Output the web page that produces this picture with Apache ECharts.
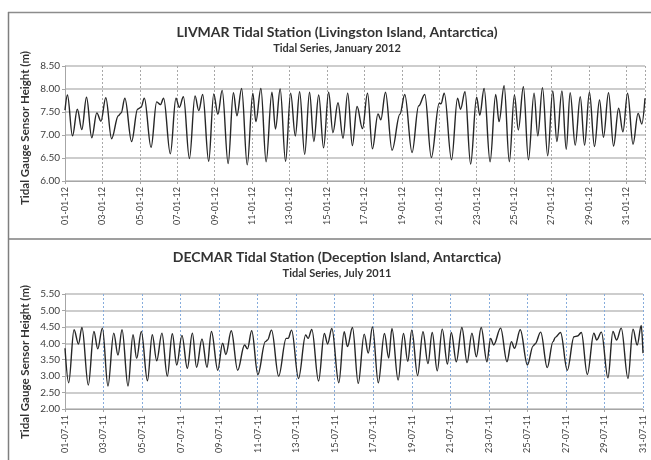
<!DOCTYPE html>
<html>
<head>
<meta charset="utf-8">
<title>LIVMAR / DECMAR tidal series</title>
<script src="https://cdn.jsdelivr.net/npm/echarts@6/dist/echarts.min.js"></script>
<style>
  html, body { margin: 0; padding: 0; background: #fff; }
  #chart { width: 651px; height: 460px; }
</style>
</head>
<body>
<div id="chart"></div>
<script>
// LIVMAR, January 2012: turning points (days after 01-01-12 00:00, metres)
const livDays = [
  0.00, 0.13, 0.40, 0.66, 0.90, 1.15, 1.43, 1.70, 1.92, 2.18, 2.49, 2.85, 3.00, 3.20,
  3.56, 3.88, 4.06, 4.24, 4.60, 4.90, 5.10, 5.27, 5.63, 5.93, 6.11, 6.33, 6.65, 6.95,
  7.15, 7.36, 7.68, 7.95, 8.17, 8.40, 8.72, 9.00, 9.19, 9.44, 9.74, 10.04, 10.20, 10.47,
  10.75, 11.06, 11.25, 11.50, 11.79, 12.06, 12.31, 12.54, 12.81, 13.07, 13.30, 13.56,
  13.82, 14.09, 14.32, 14.59, 14.86, 15.11, 15.36, 15.61, 15.90, 16.17, 16.43, 16.73,
  16.88, 17.13, 17.48, 17.90, 18.16, 18.55, 18.90, 19.23, 19.58, 20.00, 20.10, 20.27,
  20.66, 20.98, 21.14, 21.38, 21.68, 22.00, 22.17, 22.40, 22.72, 23.02, 23.20, 23.47,
  23.75, 24.02, 24.23, 24.50, 24.77, 25.07, 25.27, 25.52, 25.80, 26.07, 26.29, 26.56,
  26.79, 27.00, 27.27, 27.54, 27.77, 28.03, 28.30, 28.57, 28.78, 29.05, 29.32, 29.59,
  29.82, 30.07, 30.36, 30.63, 30.83, 31.00
];
const livHeights = [
  7.54, 7.87, 6.98, 7.56, 7.12, 7.82, 6.94, 7.48, 7.30, 7.81, 6.92, 7.42, 7.48, 7.80,
  6.86, 7.56, 7.60, 7.80, 6.73, 7.72, 7.66, 7.80, 6.59, 7.80, 7.60, 7.83, 6.49, 7.85,
  7.53, 7.88, 6.43, 7.89, 7.45, 7.97, 6.38, 7.92, 7.42, 8.01, 6.35, 7.91, 7.29, 8.01,
  6.42, 7.93, 7.13, 8.00, 6.43, 7.91, 6.98, 7.94, 6.58, 7.93, 6.86, 7.87,
  6.72, 7.93, 7.05, 7.70, 6.93, 7.91, 6.77, 7.62, 7.14, 7.91, 6.70, 7.46,
  7.33, 7.93, 6.67, 7.45, 7.88, 6.62, 7.63, 7.88, 6.51, 7.69, 7.68, 7.91,
  6.46, 7.80, 7.56, 7.94, 6.37, 7.82, 7.43, 8.01, 6.42, 7.88, 7.29, 8.07,
  6.42, 7.87, 7.11, 8.05, 6.46, 7.91, 6.98, 8.03, 6.55, 7.96, 6.86, 7.96,
  6.69, 7.92, 6.78, 7.83, 6.78, 7.93, 6.75, 7.76, 6.95, 7.92, 6.76, 7.58,
  7.07, 7.91, 6.80, 7.47, 7.24, 7.80
];
const livTicks = [
  '01-01-12', '03-01-12', '05-01-12', '07-01-12', '09-01-12', '11-01-12', '13-01-12', '15-01-12',
  '17-01-12', '19-01-12', '21-01-12', '23-01-12', '25-01-12', '27-01-12', '29-01-12', '31-01-12'
];

// DECMAR, July 2011 (days after 01-07-11 00:00, metres)
const decDays = [
  0.00, 0.19, 0.47, 0.70, 0.88, 1.21, 1.50, 1.70, 1.94, 2.23, 2.53, 2.75, 2.96, 3.27,
  3.53, 3.72, 3.96, 4.28, 4.53, 4.76, 5.03, 5.31, 5.57, 5.80, 6.07, 6.35, 6.61, 6.83,
  7.11, 7.37, 7.60, 7.93, 8.18, 8.35, 8.63, 8.96, 9.32, 9.47, 9.69, 10.01, 10.40, 10.51,
  10.72, 11.09, 11.48, 11.58, 11.76, 12.12, 12.49, 12.62, 12.81, 13.16, 13.46, 13.63,
  13.85, 14.21, 14.49, 14.66, 14.92, 15.22, 15.53, 15.74, 15.96, 16.26, 16.58, 16.80,
  16.97, 17.29, 17.57, 17.79, 18.00, 18.30, 18.58, 18.84, 19.06, 19.32, 19.58, 19.85,
  20.05, 20.31, 20.60, 20.87, 21.12, 21.35, 21.60, 21.90, 22.09, 22.25, 22.61, 22.94,
  23.17, 23.33, 23.63, 24.00, 24.30, 24.40, 24.69, 25.03, 25.33, 25.45, 25.72, 26.07,
  26.42, 26.60, 26.80, 27.11, 27.45, 27.60, 27.84, 28.18, 28.44, 28.63, 28.87, 29.22,
  29.48, 29.70, 29.91, 30.00
];
const decHeights = [
  3.85, 2.80, 4.41, 3.98, 4.48, 2.73, 4.36, 3.83, 4.46, 2.70, 4.31, 3.64, 4.41, 2.70,
  4.26, 3.54, 4.36, 2.86, 4.26, 3.47, 4.31, 3.00, 4.29, 3.34, 4.24, 3.24, 4.31, 3.27,
  4.13, 3.27, 4.36, 3.18, 4.00, 3.66, 4.38, 3.18, 3.95, 3.83, 4.38, 3.05, 4.05, 4.10,
  4.40, 3.00, 4.15, 4.15, 4.40, 2.93, 4.25, 4.15, 4.42, 2.85, 4.30, 3.98,
  4.45, 2.80, 4.35, 3.90, 4.48, 2.78, 4.28, 3.70, 4.50, 2.80, 4.30, 3.55,
  4.45, 2.88, 4.30, 3.45, 4.40, 3.02, 4.35, 3.38, 4.33, 3.16, 4.43, 3.37,
  4.33, 3.44, 4.48, 3.41, 4.31, 3.59, 4.48, 3.44, 4.15, 3.95, 4.46, 3.44,
  4.05, 3.85, 4.41, 3.34, 3.92, 3.98, 4.34, 3.26, 4.05, 4.18, 4.33, 3.18,
  4.20, 4.22, 4.33, 3.05, 4.31, 4.10, 4.34, 2.95, 4.36, 4.10, 4.46, 2.93,
  4.43, 3.95, 4.54, 3.70
];
const decTicks = [
  '01-07-11', '03-07-11', '05-07-11', '07-07-11', '09-07-11', '11-07-11', '13-07-11', '15-07-11',
  '17-07-11', '19-07-11', '21-07-11', '23-07-11', '25-07-11', '27-07-11', '29-07-11', '31-07-11'
];

const FONT = 'Lato, "Open Sans", sans-serif';
const yName = 'Tidal Gauge Sensor Height (m)';

const chart = echarts.init(document.getElementById('chart'), null, { renderer: 'canvas' });

function xAxisFor(gridIndex, max, ticks, splitColor) {
  return {
    type: 'value',
    gridIndex: gridIndex,
    min: 0,
    max: max,
    interval: 2,
    axisLine: { show: true, lineStyle: { color: '#a6a6a6', width: 1 } },
    axisTick: { show: true, length: 3, lineStyle: { color: '#a6a6a6' } },
    axisLabel: {
      rotate: 90,
      margin: 6,
      color: '#404040',
      fontFamily: FONT,
      fontSize: 9,
      showMaxLabel: true,
      formatter: function (v) {
        const i = Math.round(v / 2);
        return (v % 2 === 0 && ticks[i]) ? ticks[i] : '';
      }
    },
    splitLine: { show: true, lineStyle: { color: splitColor, type: [2, 2], width: 1 } }
  };
}

function yAxisFor(gridIndex, min, max) {
  return {
    type: 'value',
    gridIndex: gridIndex,
    min: min,
    max: max,
    interval: 0.5,
    axisLine: { show: true, lineStyle: { color: '#a6a6a6', width: 1 } },
    axisTick: { show: true, length: 3, lineStyle: { color: '#a6a6a6' } },
    axisLabel: {
      margin: 5,
      color: '#404040',
      fontFamily: FONT,
      fontSize: 10,
      formatter: function (v) { return v.toFixed(2); }
    },
    splitLine: { show: true, lineStyle: { color: '#bdbdbd', width: 1.5 } }
  };
}

const option = {
  backgroundColor: '#ffffff',
  animation: false,
  title: [
    {
      text: 'LIVMAR Tidal Station (Livingston Island, Antarctica)',
      subtext: 'Tidal Series, January 2012',
      left: 332, top: 20, textAlign: 'center', itemGap: 4,
      textStyle: { fontFamily: FONT, fontSize: 14, fontWeight: 'bold', color: '#333333' },
      subtextStyle: { fontFamily: FONT, fontSize: 11, fontWeight: 'bold', color: '#333333' }
    },
    {
      text: 'DECMAR Tidal Station (Deception Island, Antarctica)',
      subtext: 'Tidal Series, July 2011',
      left: 332, top: 245, textAlign: 'center', itemGap: 4,
      textStyle: { fontFamily: FONT, fontSize: 14, fontWeight: 'bold', color: '#333333' },
      subtextStyle: { fontFamily: FONT, fontSize: 11, fontWeight: 'bold', color: '#333333' }
    }
  ],
  grid: [
    { left: 65, top: 66, width: 580, height: 115 },
    { left: 65, top: 294, width: 578, height: 115 }
  ],
  xAxis: [
    xAxisFor(0, 31, livTicks, '#a8a8a8'),
    xAxisFor(1, 30, decTicks, '#86acdc')
  ],
  yAxis: [
    yAxisFor(0, 6, 8.5),
    yAxisFor(1, 2, 5.5)
  ],
  series: [
    {
      type: 'line',
      xAxisIndex: 0, yAxisIndex: 0,
      data: livDays.map((d, i) => [d, livHeights[i]]),
      showSymbol: false,
      smooth: 0.36,
      smoothMonotone: 'x',
      lineStyle: { color: '#262626', width: 1.4 }
    },
    {
      type: 'line',
      xAxisIndex: 1, yAxisIndex: 1,
      data: decDays.map((d, i) => [d, decHeights[i]]),
      showSymbol: false,
      smooth: 0.36,
      smoothMonotone: 'x',
      lineStyle: { color: '#262626', width: 1.4 }
    }
  ],
  graphic: [
    { type: 'line', shape: { x1: 8, y1: 12.5, x2: 651, y2: 12.5 }, style: { stroke: '#8c8c8c', lineWidth: 1.5 } },
    { type: 'line', shape: { x1: 8.5, y1: 12, x2: 8.5, y2: 460 }, style: { stroke: '#7f7f7f', lineWidth: 1.5 } },
    { type: 'line', shape: { x1: 8, y1: 239, x2: 651, y2: 239 }, style: { stroke: '#7f7f7f', lineWidth: 1.5 } },
    {
      type: 'text', x: 25, y: 128, rotation: Math.PI / 2,
      style: { text: yName, align: 'center', verticalAlign: 'middle', fill: '#333333',
        font: 'bold 11.5px ' + FONT }
    },
    {
      type: 'text', x: 25, y: 362, rotation: Math.PI / 2,
      style: { text: yName, align: 'center', verticalAlign: 'middle', fill: '#333333',
        font: 'bold 11.5px ' + FONT }
    }
  ]
};

chart.setOption(option);
window.addEventListener('resize', () => chart.resize());
</script>
</body>
</html>
